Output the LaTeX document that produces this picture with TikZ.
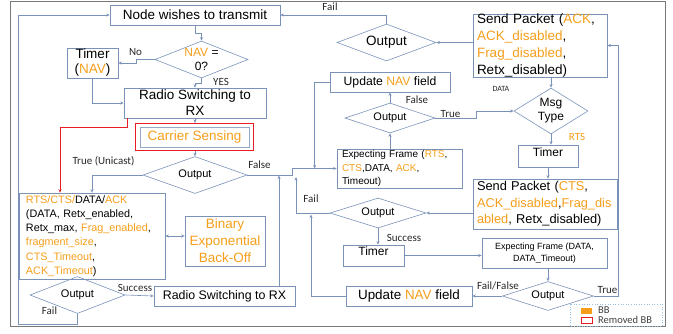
\documentclass[tikz,border=0pt]{standalone}
\usepackage{fontspec}
\setmainfont{Liberation Sans}
\newfontfamily\lblfont{Carlito}
\usetikzlibrary{shapes.geometric,arrows.meta,fit}
\definecolor{linec}{RGB}{122,146,184}
\definecolor{orng}{RGB}{245,158,27}
\definecolor{framec}{RGB}{120,120,120}
\definecolor{redc}{RGB}{232,28,36}
\definecolor{legc}{RGB}{150,190,225}
\newcommand{\ortxt}[1]{\textcolor{orng}{#1}}
\newcommand{\fsz}[2]{\fontsize{#1}{#2}\selectfont}

\begin{document}
\begin{tikzpicture}[x=1pt,y=-1pt] % координаты в пикселях картинки
\tikzstyle{blk} = [rectangle, draw=linec, line width=0.6pt, inner xsep=4pt, inner ysep=0pt] % блок
\tikzstyle{dec} = [diamond, draw=linec, line width=0.6pt, inner sep=0pt, aspect=2.5] % ромб (решение)
\tikzstyle{flow} = [draw=linec, line width=0.6pt, >={Stealth[length=3.5pt,width=3pt]}, ->] % стрелка
\tikzstyle{lbl} = [font=\lblfont\fsz{11}{13}, text=black!85, inner sep=0pt] % подпись у стрелки
\tikzstyle{removed} = [draw=redc, line width=1.4pt, inner sep=0pt] % removed BB
\tikzstyle{timerbox} = [blk, font=\fsz{12}{14}, text depth=8pt] % таймер, текст вверху
\useasboundingbox (0,0) rectangle (673,333);
\draw[framec, line width=0.8pt] (10,1) rectangle (665,326); % рамка

% левая часть
\node[blk, minimum width=170pt, minimum height=20pt, font=\fsz{13.5}{16}] (wish) at (195,15) {Node wishes to transmit};
\node[dec, minimum width=93pt, minimum height=37pt, label={[name=navtxt, font=\fsz{12}{14}, align=center]center:{\ortxt{NAV} =\\0?}}] (nav) at (201.5,59.5) {};
\node[blk, minimum width=51pt, minimum height=30pt, align=center, font=\fsz{13.5}{15}] (navtimer) at (92.5,63) {Timer\\(\ortxt{NAV})};
\node[blk, minimum width=142pt, minimum height=30pt, align=center, font=\fsz{13.5}{16}] (radio1) at (195,103) {Radio Switching to\\RX};
\node[blk, draw=linec!80, minimum width=109pt, minimum height=20pt, font=\fsz{13.5}{16}, text=orng] (carrier) at (194.5,137) {Carrier Sensing};
\node[removed, fit=(carrier), inner xsep=4pt, inner ysep=3pt] (carrierbb) {};
\node[dec, minimum width=104pt, minimum height=37pt, font=\fsz{11}{13}] (out1) at (195,175) {Output};
\node[blk, inner xsep=7pt, minimum width=146pt, minimum height=86pt, text width=132pt, align=left, font=\fsz{10.8}{14.2}] (big) at (92,236)
  {\ortxt{RTS/CTS/}DATA/\ortxt{ACK}\\(DATA, Retx\_enabled,\\Retx\_max, \ortxt{Frag\_enabled},\\\ortxt{fragment\_size},\\\ortxt{CTS\_Timeout},\\\ortxt{ACK\_Timeout})};
\node[blk, minimum width=80pt, minimum height=50pt, align=center, font=\fsz{13.5}{17}, text=orng] (beb) at (225,241) {Binary\\Exponential\\Back-Off};
\node[dec, minimum width=95pt, minimum height=37pt, font=\fsz{11}{13}] (out2) at (77.5,295) {Output};
\node[blk, minimum width=141pt, minimum height=20pt, font=\fsz{12.4}{15}] (radio2) at (224.5,296) {Radio Switching to RX};

% правая часть
\node[dec, minimum width=99pt, minimum height=37pt, font=\fsz{13.5}{16}] (out3) at (386.5,42.5) {Output};
\node[blk, minimum width=134pt, minimum height=63pt, text width=126pt, align=left, font=\fsz{13.5}{16.8}] (sendack) at (540,45.5)
  {Send Packet (\ortxt{ACK},\\\ortxt{ACK\_disabled},\\\ortxt{Frag\_disabled},\\Retx\_disabled)};
\node[blk, minimum width=120pt, minimum height=20pt, font=\fsz{12.2}{14}] (upnav1) at (390,82) {Update \ortxt{NAV} field};
\node[dec, minimum width=90pt, minimum height=30pt, font=\fsz{11}{13}] (out4) at (390,118) {Output};
\node[dec, aspect=1.6, minimum width=74pt, minimum height=46pt, align=center, font=\fsz{12}{14}] (msg) at (551,111) {Msg\\Type};
\node[blk, inner xsep=5pt, minimum width=125pt, minimum height=39pt, text width=115pt, align=left, font=\fsz{10}{13.5}] (expect1) at (399.5,168.5)
  {Expecting Frame (\ortxt{RTS},\\\ortxt{CTS},DATA, \ortxt{ACK},\\Timeout)};
\node[timerbox, minimum width=60pt, minimum height=22pt] (timer2) at (548,156) {Timer};
\node[blk, minimum width=144pt, minimum height=50pt, text width=136pt, align=left, font=\fsz{12.8}{16.5}] (sendcts) at (545,204)
  {Send Packet (\ortxt{CTS},\\\ortxt{ACK\_disabled},\ortxt{Frag\_dis}\\\ortxt{abled}, Retx\_disabled)};
\node[dec, minimum width=96pt, minimum height=30pt, font=\fsz{11}{13}] (out5) at (378,213) {Output};
\node[timerbox, minimum width=61pt, minimum height=21pt] (timer3) at (373.5,255.5) {Timer};
\node[blk, minimum width=125pt, minimum height=30pt, align=center, font=\fsz{9}{11.5}] (expect2) at (544.5,253) {Expecting Frame (DATA,\\DATA\_Timeout)};
\node[dec, minimum width=91pt, minimum height=29pt, font=\fsz{11}{13}] (out6) at (548,296) {Output};
\node[blk, minimum width=126pt, minimum height=20pt, font=\fsz{13.4}{16}] (upnav2) at (409,296) {Update \ortxt{NAV} field};

% стрелки слева
\draw[flow] (wish.south) -- ++(0,8) -| (nav.north);
\draw[flow] (nav.west) -- ++(-18,0) |- (navtimer.east);
\node[lbl] (lno) at (135.5,52) {No};
\draw[flow] (nav.south) -- ++(0,5) -| (radio1.north);
\node[lbl] (lyes) at (221,81.5) {YES};
\draw[flow] (navtimer.south) |- (radio1.west);
\draw[flow] (radio1.south) -- (radio1.south |- carrierbb.north);
\draw[flow] (out1.north |- carrierbb.south) -- (out1.north);
\draw[flow, draw=redc, line width=0.9pt] ([xshift=4pt]radio1.south west) -- ++(0,9) -| ([xshift=-32pt]big.north);
\draw[flow] (out1.west) -| (big.north);
\node[lbl] (ltrue) at (103.5,161) {True (Unicast)};
\draw[flow] (out1.east) -- ++(45,0) |- (expect1.west);
\node[lbl] (lfalse) at (259.5,165) {False};
\draw[flow, <->] (big.east) -- (big.east -| beb.west);
\draw[flow] (out2.east) -- (radio2.west);
\node[lbl] (lsucc2) at (135,288) {Success};
\coordinate (lp) at (18,15);
\draw[flow] (out2.south) -- ++(0,10) -| (lp) -- (wish.west);
\node[lbl] (lfail3) at (49.5,310.5) {Fail};
\coordinate (m1) at (279,175.5);
\draw[flow] (m1 |- radio2.north) -- (m1);

% стрелки справа
\draw[flow] (out3.east -| sendack.west) -- (out3.east);
\draw[flow] (out3.north) |- (wish.east);
\node[lbl] (lfail1) at (330,7) {Fail};
\draw[flow] (upnav1.west) -| ([xshift=-22pt]expect1.west);
\draw[flow] (out4.north) -- (upnav1.south);
\node[lbl] (lfalse2) at (417,100) {False};
\draw[flow] (out4.south |- expect1.north) -- (out4.south);
\draw[flow] (out4.east) -- ++(41,0) |- (msg.west);
\node[lbl] (ltrue2) at (450.5,114) {True};
\draw[flow] (msg.north |- sendack.south) -- (msg.north);
\node[lbl, font=\lblfont\fsz{8}{9}] (ldata) at (501,88.5) {DATA};
\draw[flow] (msg.south) -- (msg.south |- timer2.north);
\node[lbl, text=orng] (lrts) at (577,136.5) {RTS};
\draw[flow] (timer2.south) -- (timer2.south |- sendcts.north);
\draw[flow] (out5.east -| sendcts.west) -- (out5.east);
\coordinate (m2) at (296,177);
\draw[flow] (out5.west) -| (m2);
\node[lbl] (lfail2) at (311,198.5) {Fail};
\draw[flow] (out5.south) -- (out5.south |- timer3.north);
\node[lbl] (lsucc1) at (404,237.5) {Success};
\draw[flow] (timer3.east) -- (timer3.east -| expect2.west);
\draw[flow] (expect2.south -| out6.north) -- (out6.north);
\draw[flow] (out6.west) -- (upnav2.east);
\node[lbl] (lff) at (498,286) {Fail/False};
\draw[flow] (out6.east) -- ++(24.5,0) |- (sendack.east);
\node[lbl] (ltrue3) at (607.5,290) {True};
\coordinate (m3) at (311,214.5);
\draw[flow] (upnav2.west) -| (m3);

% легенда
\draw[legc, dotted, line width=0.6pt] (570,304) rectangle (662,326);
\node[fill=orng, minimum width=11pt, minimum height=6pt, inner sep=0pt] (bbkey) at (586.5,311) {};
\node[draw=redc, line width=0.8pt, minimum width=11pt, minimum height=6pt, inner sep=0pt] (rbbkey) at (586.5,320) {};
\node[lbl, anchor=west, font=\lblfont\fsz{10.5}{12}, text=black!75] (bbtxt) at (598,310.5) {BB};
\node[lbl, anchor=west, font=\lblfont\fsz{10.5}{12}, text=black!75] (rbbtxt) at (598,320) {Removed BB};
\end{tikzpicture}
\end{document}
